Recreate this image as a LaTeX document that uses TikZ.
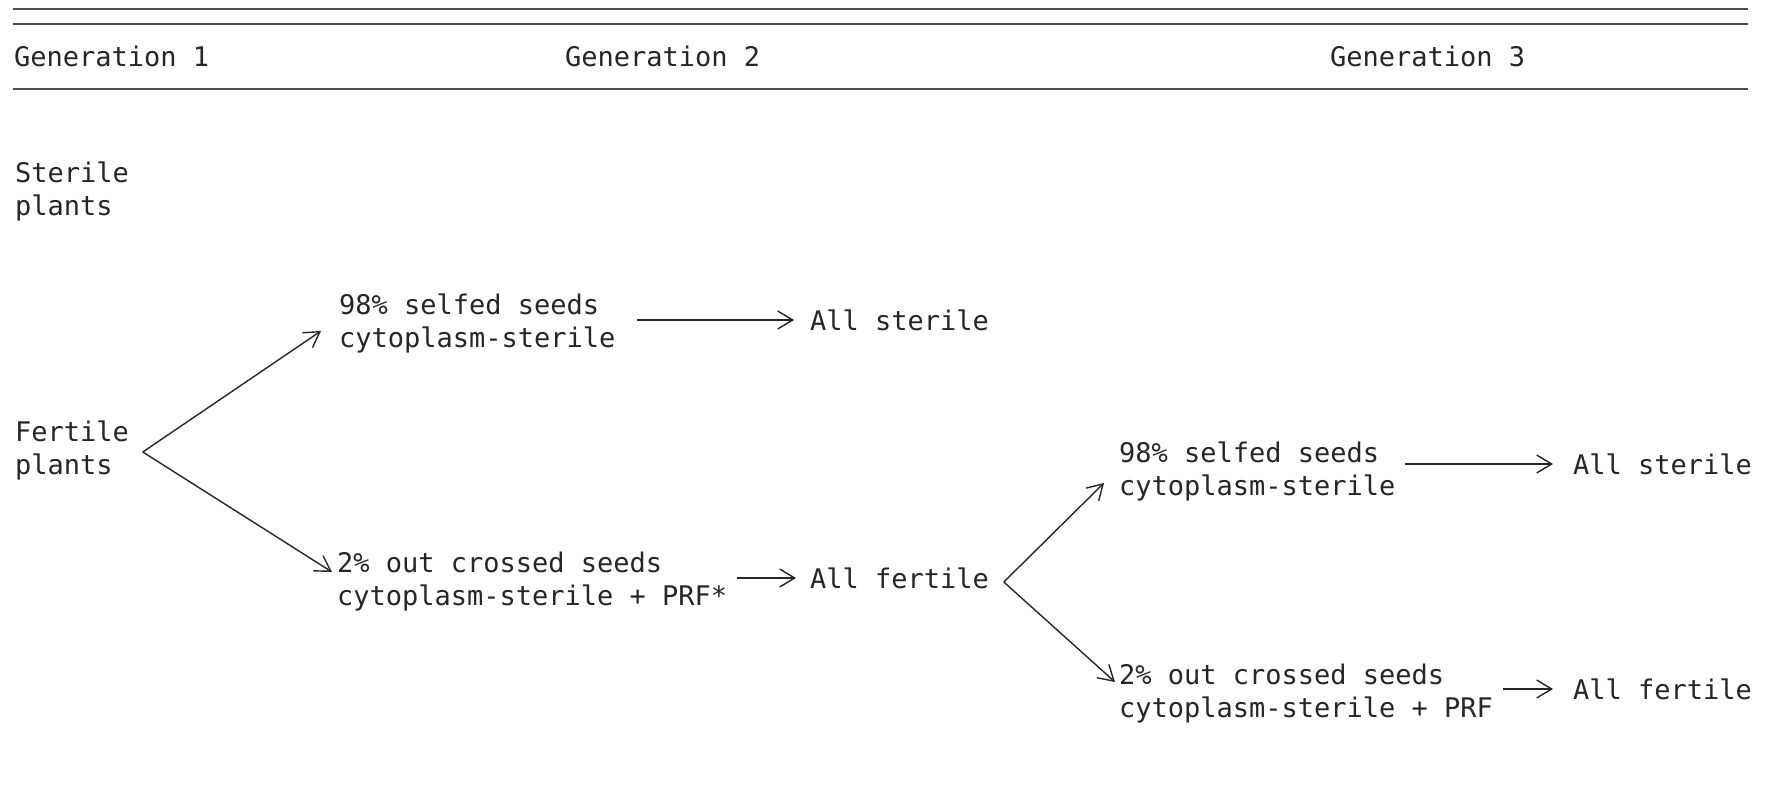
\documentclass[tikz,border=0pt]{standalone}
\usepackage{fontspec}
\newfontfamily\monofam{DejaVu Sans Mono}
\usetikzlibrary{arrows.meta,calc}
\begin{document}
\begin{tikzpicture}[x=0.5pt,y=-0.5pt,
  txt/.style={anchor=west,inner sep=0pt,outer sep=0pt,align=left,
    font=\monofam\fontsize{13.5pt}{16.5pt}\selectfont,text=black!85},
  rule/.style={line width=0.9pt,draw=black!70},
  conn/.style={line width=0.7pt,draw=black!85,
    -{Straight Barb[length=7.5pt,width=9pt,line width=0.7pt]}}]
\useasboundingbox (0,0) rectangle (1766,785);
% rules
\draw[rule] (13,9) -- (1748,9);
\draw[rule] (13,24) -- (1748,24);
\draw[rule] (13,89) -- (1748,89);
% header
\node[txt] (g1) at (14,56) {Generation 1};
\node[txt] (g2) at (565,56) {Generation 2};
\node[txt] (g3) at (1330,56) {Generation 3};
% generation 1
\node[txt] (ster) at (15,191) {Sterile\\plants};
\node[txt] (fert) at (15,450) {Fertile\\plants};
% generation 2
\node[txt] (sa) at (339,323) {98\% selfed seeds\\cytoplasm-sterile};
\node[txt] (asa) at (810,320) {All sterile};
\node[txt] (oa) at (337,582) {2\% out crossed seeds\\cytoplasm-sterile + PRF*};
\node[txt] (afa) at (810,578) {All fertile};
% generation 3
\node[txt] (sb) at (1119,471) {98\% selfed seeds\\cytoplasm-sterile};
\node[txt] (asb) at (1573,464) {All sterile};
\node[txt] (ob) at (1119,694) {2\% out crossed seeds\\cytoplasm-sterile + PRF};
\node[txt] (afb) at (1573,689) {All fertile};
% branch vertices
\coordinate (v1) at ($(fert.east)+(14,2)$);
\coordinate (v2) at ($(afa.east)+(15,4)$);
% connectors
\draw[conn] (v1) -- ($(sa.west)+(-18,8)$);
\draw[conn] (v1) -- ($(oa.west)+(-5,-10)$);
\draw[conn] ({$(sa.east)+(22,0)$} |- asa.west) -- ($(asa.west)+(-16,0)$);
\draw[conn] ({$(oa.east)+(10,0)$} |- afa.west) -- ($(afa.west)+(-14,0)$);
\draw[conn] (v2) -- ($(sb.west)+(-15,12)$);
\draw[conn] (v2) -- ($(ob.west)+(-4,-12)$);
\draw[conn] ({$(sb.east)+(10,0)$} |- asb.west) -- ($(asb.west)+(-20,0)$);
\draw[conn] ({$(ob.east)+(10,0)$} |- afb.west) -- ($(afb.west)+(-20,0)$);
\end{tikzpicture}
\end{document}
